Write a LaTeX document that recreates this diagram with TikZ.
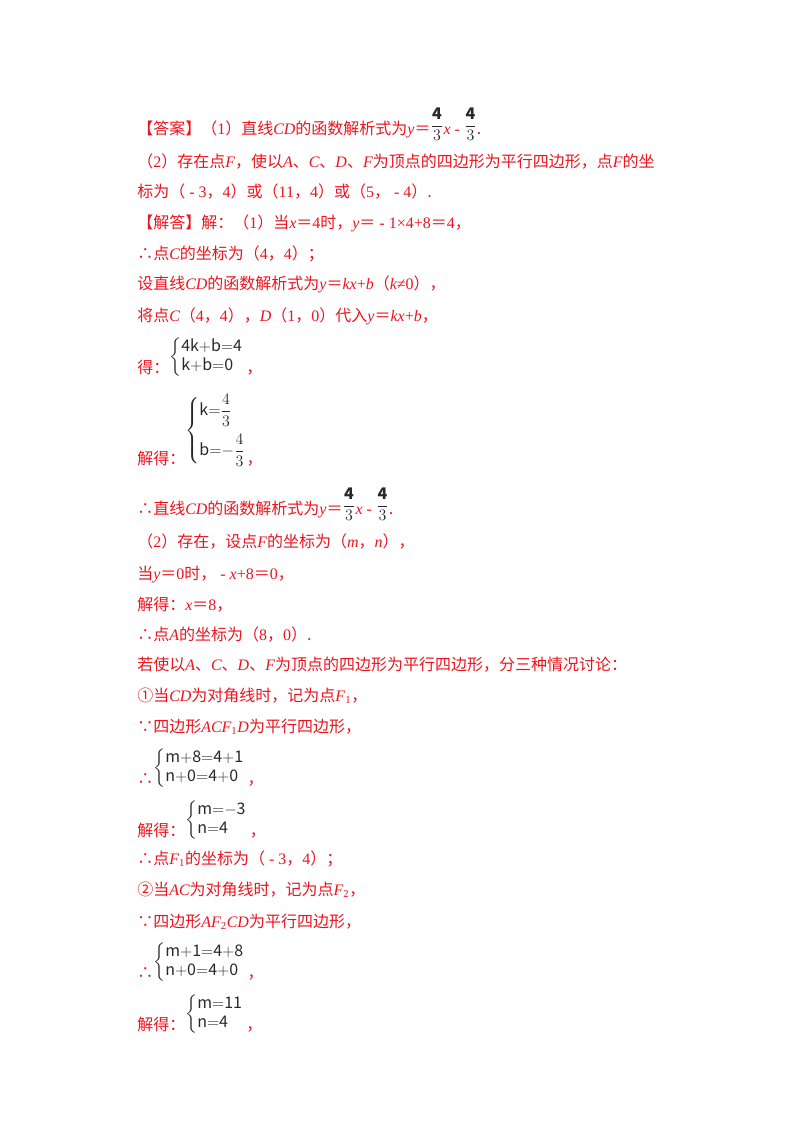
\documentclass[tikz,border=0pt]{standalone}
\usepackage{amsmath}
\usepackage{fontspec}
\setmainfont{Noto Sans CJK SC}
\newfontfamily\lat{Liberation Serif}
\newcommand\vv[1]{{\lat\itshape #1}}
\newcommand\nn[1]{{\lat #1}}
\definecolor{ans}{RGB}{235,20,30}
\definecolor{eqc}{RGB}{40,40,40}
\newcommand\sys[1]{\textcolor{eqc}{$\left\{\begin{array}{@{}l@{}}#1\end{array}\right.$}}
\newcommand\fr{\raisebox{3pt}{\textcolor{eqc}{$\dfrac{\mathbf 4}{3}$}}}
\begin{document}
\begin{tikzpicture}[x=0.75pt,y=-0.75pt,
  txt/.style={anchor=base west,inner sep=0,text=ans,font=\fontsize{12}{14}\selectfont}]
\useasboundingbox (0,0) rectangle (800,1132);
\node[txt] (l1) at (137,134) {【答案】（\nn1）直线\vv{CD}的函数解析式为\vv{y}＝\fr\vv{x}\nn{ - }\fr.};
\node[txt] (l2) at (137,167) {（\nn2）存在点\vv{F}，使以\vv{A}、\vv{C}、\vv{D}、\vv{F}为顶点的四边形为平行四边形，点\vv{F}的坐};
\node[txt] (l3) at (137,197) {标为（\nn{ - 3}，\nn4）或（\nn{11}，\nn4）或（\nn5，\nn{ - 4}）.};
\node[txt] (l4) at (137,228) {【解答】解：（\nn1）当\vv{x}＝\nn{4}时，\vv{y}＝\nn{ - 1×4+8}＝\nn{4}，};
\node[txt] (l5) at (137,259) {∴点\vv{C}的坐标为（\nn4，\nn4）；};
\node[txt] (l6) at (137,289) {设直线\vv{CD}的函数解析式为\vv{y}＝\vv{kx}\nn+\vv{b}（\vv{k}\nn{≠0}），};
\node[txt] (l7) at (137,321) {将点\vv{C}（\nn4，\nn4），\vv{D}（\nn1，\nn0）代入\vv{y}＝\vv{kx}\nn+\vv{b}，};
\node[txt] (l8) at (137,373) {得：\raisebox{9pt}{\sys{\mathrm{4k{+}b{=}4}\\ \mathrm{k{+}b{=}0}}}\,，};
\node[txt] (l9) at (137,464) {解得：\raisebox{22pt}{\sys{\mathrm{k{=}}\dfrac{4}{3}\\[10pt] \mathrm{b{=}{-}}\dfrac{4}{3}}}，};
\node[txt] (l10) at (137,514) {∴直线\vv{CD}的函数解析式为\vv{y}＝\fr\vv{x}\nn{ - }\fr.};
\node[txt] (l11) at (137,547) {（\nn2）存在，设点\vv{F}的坐标为（\vv{m}，\vv{n}），};
\node[txt] (l12) at (137,579) {当\vv{y}＝\nn{0}时，\nn{ - }\vv{x}\nn{+8}＝\nn{0}，};
\node[txt] (l13) at (137,610) {解得：\vv{x}＝\nn{8}，};
\node[txt] (l14) at (137,640) {∴点\vv{A}的坐标为（\nn8，\nn0）.};
\node[txt] (l15) at (137,670) {若使以\vv{A}、\vv{C}、\vv{D}、\vv{F}为顶点的四边形为平行四边形，分三种情况讨论：};
\node[txt] (l16) at (137,701) {①当\vv{CD}为对角线时，记为点\vv{F}\textsubscript{\nn1}，};
\node[txt] (l17) at (137,732) {∵四边形\vv{ACF}\textsubscript{\nn1}\vv{D}为平行四边形，};
\node[txt] (l18) at (137,784) {∴\raisebox{9pt}{\sys{\mathrm{m{+}8{=}4{+}1}\\ \mathrm{n{+}0{=}4{+}0}}}\,，};
\node[txt] (l19) at (137,836) {解得：\raisebox{9pt}{\sys{\mathrm{m{=}{-}3}\\ \mathrm{n{=}4}}}\,，};
\node[txt] (l20) at (137,864) {∴点\vv{F}\textsubscript{\nn1}的坐标为（\nn{ - 3}，\nn4）；};
\node[txt] (l21) at (137,895) {②当\vv{AC}为对角线时，记为点\vv{F}\textsubscript{\nn2}，};
\node[txt] (l22) at (137,927) {∵四边形\vv{AF}\textsubscript{\nn2}\vv{CD}为平行四边形，};
\node[txt] (l23) at (137,978) {∴\raisebox{9pt}{\sys{\mathrm{m{+}1{=}4{+}8}\\ \mathrm{n{+}0{=}4{+}0}}}\,，};
\node[txt] (l24) at (137,1030) {解得：\raisebox{9pt}{\sys{\mathrm{m{=}11}\\ \mathrm{n{=}4}}}\,，};
\end{tikzpicture}
\end{document}
